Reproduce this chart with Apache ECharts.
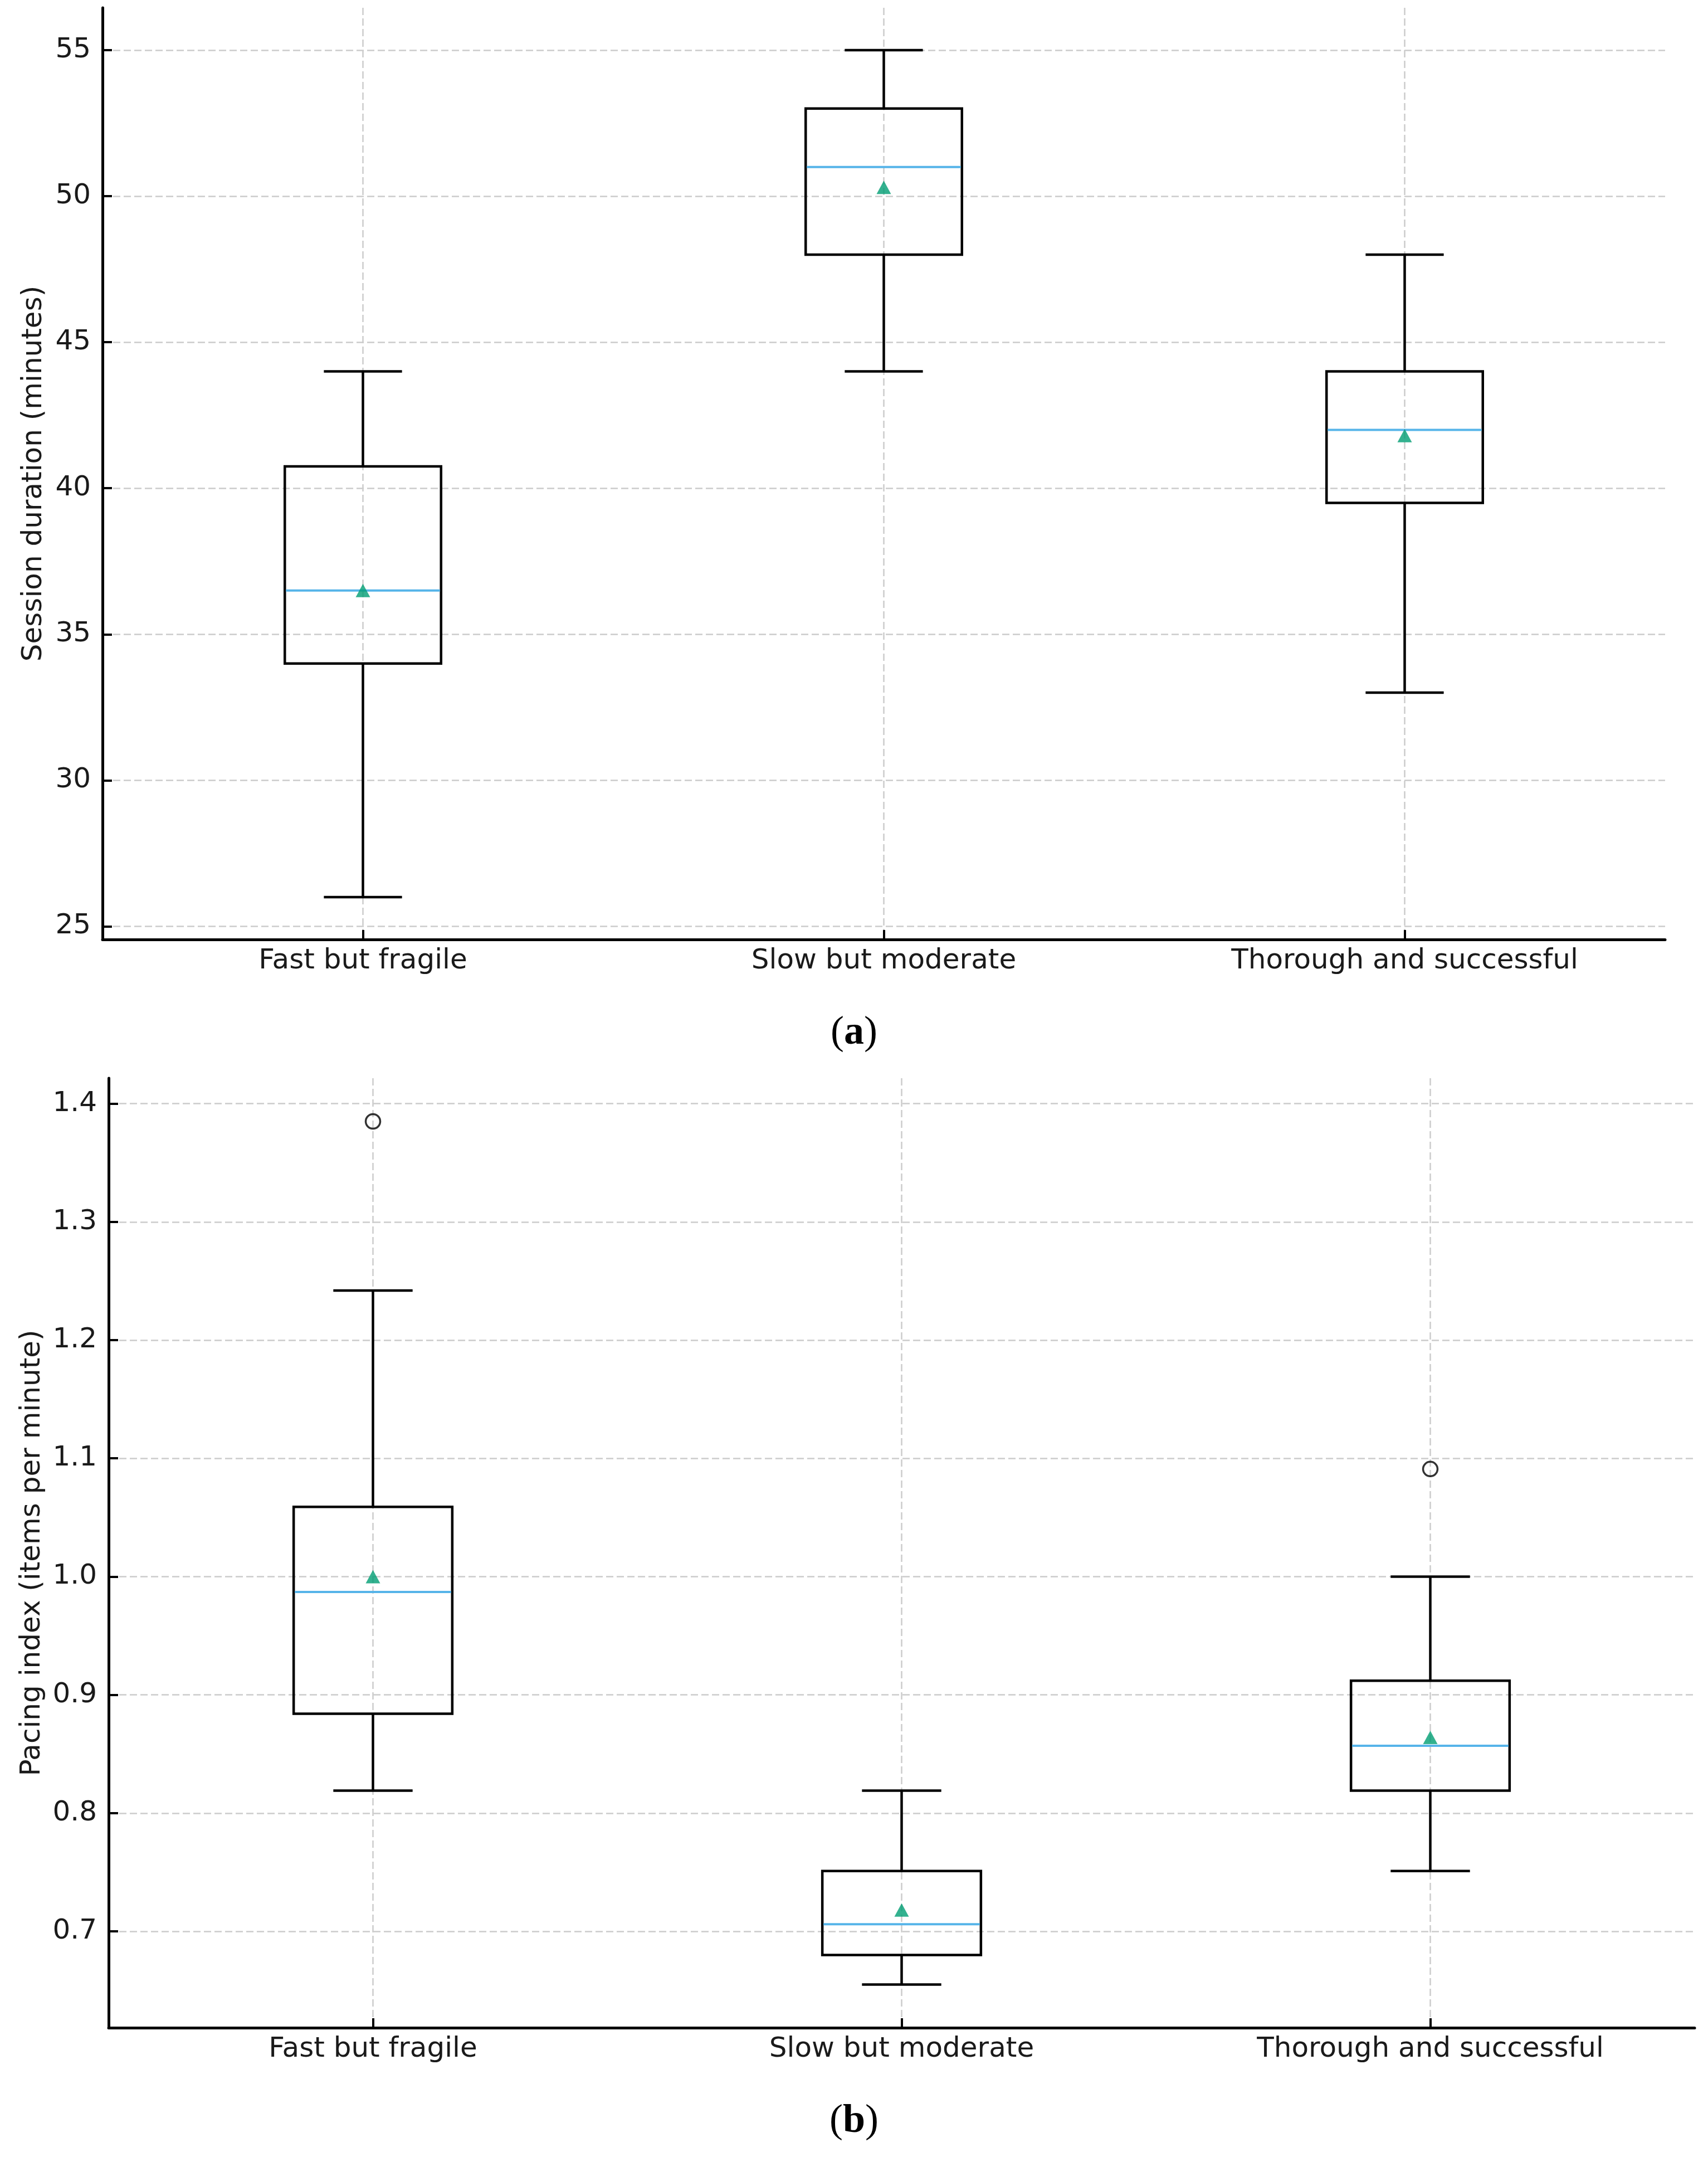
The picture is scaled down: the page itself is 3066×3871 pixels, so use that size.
<!DOCTYPE html>
<html>
<head>
<meta charset="utf-8">
<script src="https://cdn.jsdelivr.net/npm/echarts@6/dist/echarts.min.js"></script>
<style>
html,body{margin:0;padding:0;background:#fff;}
#chart{width:3066px;height:3871px;}
</style>
</head>
<body>
<div id="chart"></div>
<script>
// ---------- data ----------
const categories = ['Fast but fragile', 'Slow but moderate', 'Thorough and successful'];

// (a) Session duration (minutes)
const durationWhiskerLow  = [26, 44, 33];
const durationQ1          = [34, 48, 39.5];
const durationMedian      = [36.5, 51, 42];
const durationQ3          = [40.75, 53, 44];
const durationWhiskerHigh = [44, 55, 48];
const durationMean        = [36.5, 50.3, 41.8];
const durationOutliers    = []; // [categoryIndex, value]
const durationTicks       = [25, 30, 35, 40, 45, 50, 55];
const durationRange       = [24.55, 56.45];

// (b) Pacing index (items per minute)
const pacingWhiskerLow  = [0.819, 0.655, 0.751];
const pacingQ1          = [0.884, 0.680, 0.819];
const pacingMedian      = [0.987, 0.706, 0.857];
const pacingQ3          = [1.059, 0.751, 0.912];
const pacingWhiskerHigh = [1.242, 0.819, 1.000];
const pacingMean        = [1.000, 0.718, 0.864];
const pacingOutliers    = [[0, 1.385], [2, 1.091]];
const pacingTicks       = [0.7, 0.8, 0.9, 1.0, 1.1, 1.2, 1.3, 1.4];
const pacingRange       = [0.6185, 1.4215];

const categoryPositions = [1, 2, 3];

// ---------- styles ----------
const FONT = 'DejaVu Sans';
const TEXT = '#1a1a1a';
const FS = 50;
const BOX_W = 0.3;
const MEDIAN_COLOR = '#56B4E9';
const MEAN_COLOR = '#009E73';

function boxRows(lo, q1, med, q3, hi) {
  return categoryPositions.map((p, i) => [p, lo[i], q1[i], med[i], q3[i], hi[i]]);
}

function renderBox(params, api) {
  const x = api.value(0);
  const lo = api.coord([x, api.value(1)]);
  const q1 = api.coord([x, api.value(2)]);
  const md = api.coord([x, api.value(3)]);
  const q3 = api.coord([x, api.value(4)]);
  const hi = api.coord([x, api.value(5)]);
  const bw = api.size([BOX_W, 0])[0];
  const cw = bw / 2;
  const cx = lo[0];
  const st = { stroke: '#000', lineWidth: 4.5, fill: 'none' };
  return {
    type: 'group',
    children: [
      { type: 'line', shape: { x1: cx, y1: hi[1], x2: cx, y2: q3[1] }, style: st },
      { type: 'line', shape: { x1: cx, y1: q1[1], x2: cx, y2: lo[1] }, style: st },
      { type: 'line', shape: { x1: cx - cw / 2, y1: hi[1], x2: cx + cw / 2, y2: hi[1] }, style: st },
      { type: 'line', shape: { x1: cx - cw / 2, y1: lo[1], x2: cx + cw / 2, y2: lo[1] }, style: st },
      { type: 'rect', shape: { x: cx - bw / 2, y: q3[1], width: bw, height: q1[1] - q3[1] }, style: st },
      { type: 'line', shape: { x1: cx - bw / 2 + 2, y1: md[1], x2: cx + bw / 2 - 2, y2: md[1] },
        style: { stroke: MEDIAN_COLOR, lineWidth: 4 } }
    ]
  };
}

const gridLine = { show: true,
  lineStyle: { color: '#cccccc', width: 2.5, type: [13, 6] } };

function xAxisFor(gridIndex) {
  return {
    type: 'value', gridIndex: gridIndex, min: 0.5, max: 3.5,
    minInterval: 1, maxInterval: 1,
    axisLine: { show: true, onZero: false, lineStyle: { color: '#000', width: 5 } },
    axisTick: { show: true, inside: true, length: 17, customValues: categoryPositions,
      lineStyle: { color: '#000', width: 4 } },
    axisLabel: { show: true, customValues: categoryPositions,
      fontFamily: FONT, fontSize: FS, color: TEXT, margin: 14,
      formatter: v => categories[Math.round(v) - 1] || '' },
    splitLine: gridLine
  };
}

function yAxisFor(gridIndex, range, ticks, name, nameGap, step, decimals) {
  return {
    type: 'value', gridIndex: gridIndex, min: range[0], max: range[1],
    minInterval: step, maxInterval: step,
    name: name, nameLocation: 'middle', nameGap: nameGap,
    nameTextStyle: { fontFamily: FONT, fontSize: FS, color: TEXT },
    axisLine: { show: true, onZero: false, lineStyle: { color: '#000', width: 5 } },
    axisTick: { show: true, inside: true, length: 17, customValues: ticks,
      lineStyle: { color: '#000', width: 4 } },
    axisLabel: { show: true, customValues: ticks,
      fontFamily: FONT, fontSize: FS, color: TEXT, margin: 21,
      formatter: v => Number(v).toFixed(decimals) },
    splitLine: gridLine
  };
}

const chart = echarts.init(document.getElementById('chart'), null, { renderer: 'canvas' });

chart.setOption({
  backgroundColor: '#ffffff',
  animation: false,
  grid: [
    { left: 184, top: 14, width: 2805, height: 1672 },
    { left: 195, top: 1935, width: 2847, height: 1704 }
  ],
  xAxis: [xAxisFor(0), xAxisFor(1)],
  yAxis: [
    yAxisFor(0, durationRange, durationTicks, 'Session duration (minutes)', 98, 5, 0),
    yAxisFor(1, pacingRange, pacingTicks, 'Pacing index (items per minute)', 112, 0.1, 1)
  ],
  series: [
    {
      type: 'custom', xAxisIndex: 0, yAxisIndex: 0, z: 3,
      renderItem: renderBox,
      encode: { x: 0, y: [1, 2, 3, 4, 5] },
      data: boxRows(durationWhiskerLow, durationQ1, durationMedian, durationQ3, durationWhiskerHigh)
    },
    {
      type: 'scatter', xAxisIndex: 0, yAxisIndex: 0, z: 4,
      symbol: 'triangle', symbolSize: [26, 24],
      itemStyle: { color: MEAN_COLOR },
      data: categoryPositions.map((p, i) => [p, durationMean[i]])
    },
    {
      type: 'scatter', xAxisIndex: 0, yAxisIndex: 0, z: 4,
      symbol: 'circle', symbolSize: 26,
      itemStyle: { color: 'rgba(0,0,0,0)', borderColor: '#000', borderWidth: 3.5 },
      data: durationOutliers.map(d => [categoryPositions[d[0]], d[1]])
    },
    {
      type: 'custom', xAxisIndex: 1, yAxisIndex: 1, z: 3,
      renderItem: renderBox,
      encode: { x: 0, y: [1, 2, 3, 4, 5] },
      data: boxRows(pacingWhiskerLow, pacingQ1, pacingMedian, pacingQ3, pacingWhiskerHigh)
    },
    {
      type: 'scatter', xAxisIndex: 1, yAxisIndex: 1, z: 4,
      symbol: 'triangle', symbolSize: [26, 24],
      itemStyle: { color: MEAN_COLOR },
      data: categoryPositions.map((p, i) => [p, pacingMean[i]])
    },
    {
      type: 'scatter', xAxisIndex: 1, yAxisIndex: 1, z: 4,
      symbol: 'circle', symbolSize: 26,
      itemStyle: { color: 'rgba(0,0,0,0)', borderColor: '#000', borderWidth: 3.5 },
      data: pacingOutliers.map(d => [categoryPositions[d[0]], d[1]])
    }
  ],
  graphic: [
    {
      type: 'text', left: 'center', top: 1818,
      style: {
        text: '({b|a})',
        font: '72px "Liberation Serif"',
        fill: '#000',
        rich: { b: { fontWeight: 'bold', fontFamily: 'Liberation Serif', fontSize: 72, fill: '#000' } }
      }
    },
    {
      type: 'text', left: 'center', top: 3771,
      style: {
        text: '({b|b})',
        font: '72px "Liberation Serif"',
        fill: '#000',
        rich: { b: { fontWeight: 'bold', fontFamily: 'Liberation Serif', fontSize: 72, fill: '#000' } }
      }
    }
  ]
});
</script>
</body>
</html>
